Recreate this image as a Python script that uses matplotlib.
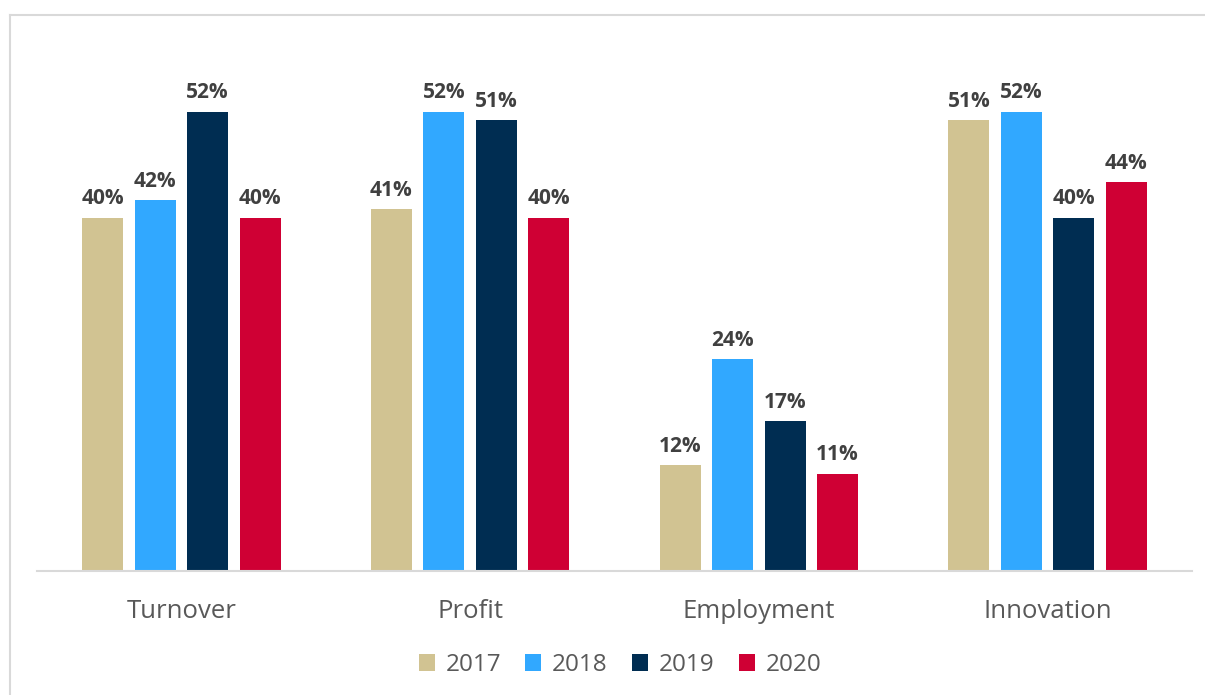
import matplotlib
matplotlib.use("Agg")
import matplotlib.pyplot as plt
from matplotlib.lines import Line2D
from matplotlib.patches import Patch
import numpy as np

categories = ["Turnover", "Profit", "Employment", "Innovation"]
years = ["2017", "2018", "2019", "2020"]
values = {
    "2017": [40, 41, 12, 51],
    "2018": [42, 52, 24, 52],
    "2019": [52, 51, 17, 40],
    "2020": [40, 40, 11, 44],
}
colors = ["#D1C392", "#31A8FF", "#002D52", "#CF0034"]

plt.rcParams["font.family"] = ["Open Sans", "DejaVu Sans"]

fig = plt.figure(figsize=(12.05, 6.95), dpi=100)
ax = fig.add_axes([37 / 1205, 1 - 571 / 695, (1192 - 37) / 1205, (571 - 41) / 695])

x = np.arange(len(categories))
width = 0.142
step = 0.1817
for i, (yr, col) in enumerate(zip(years, colors)):
    offs = (i - 1.5) * step
    bars = ax.bar(x + offs, values[yr], width, color=col, label=yr, zorder=2)
    for b, v in zip(bars, values[yr]):
        ax.annotate(f"{v}%", (b.get_x() + b.get_width() / 2, v),
                    xytext=(0, 6), textcoords="offset points",
                    ha="center", va="bottom", fontsize=15, fontweight="bold",
                    color="#404040")

ax.set_xlim(-0.5, len(categories) - 0.5)
ax.set_ylim(0, 60)
ax.set_xticks(x)
ax.set_xticklabels(categories, fontsize=18.5, color="#595959")
ax.tick_params(axis="x", length=0, pad=20)
ax.set_yticks([])
for s in ["top", "right", "left"]:
    ax.spines[s].set_visible(False)
ax.spines["bottom"].set_color("#D9D9D9")
ax.spines["bottom"].set_linewidth(1.5)

handles = [Patch(facecolor=c, label=y) for y, c in zip(years, colors)]
fig.legend(handles=handles, loc="center", bbox_to_anchor=(620 / 1205, 1 - 665 / 695),
           ncol=4, frameon=False, fontsize=17.5, labelcolor="#595959",
           handlelength=0.65, handleheight=0.65, handletextpad=0.45, columnspacing=1.0)

# outer chart frame (left and top edges)
fig.add_artist(Line2D([10 / 1205, 10 / 1205], [0, 1 - 15 / 695], color="#D9D9D9",
                      linewidth=1.5, transform=fig.transFigure))
fig.add_artist(Line2D([10 / 1205, 1], [1 - 15 / 695, 1 - 15 / 695], color="#D9D9D9",
                      linewidth=1.5, transform=fig.transFigure))

fig.savefig("out.png", dpi=100, facecolor="white")
